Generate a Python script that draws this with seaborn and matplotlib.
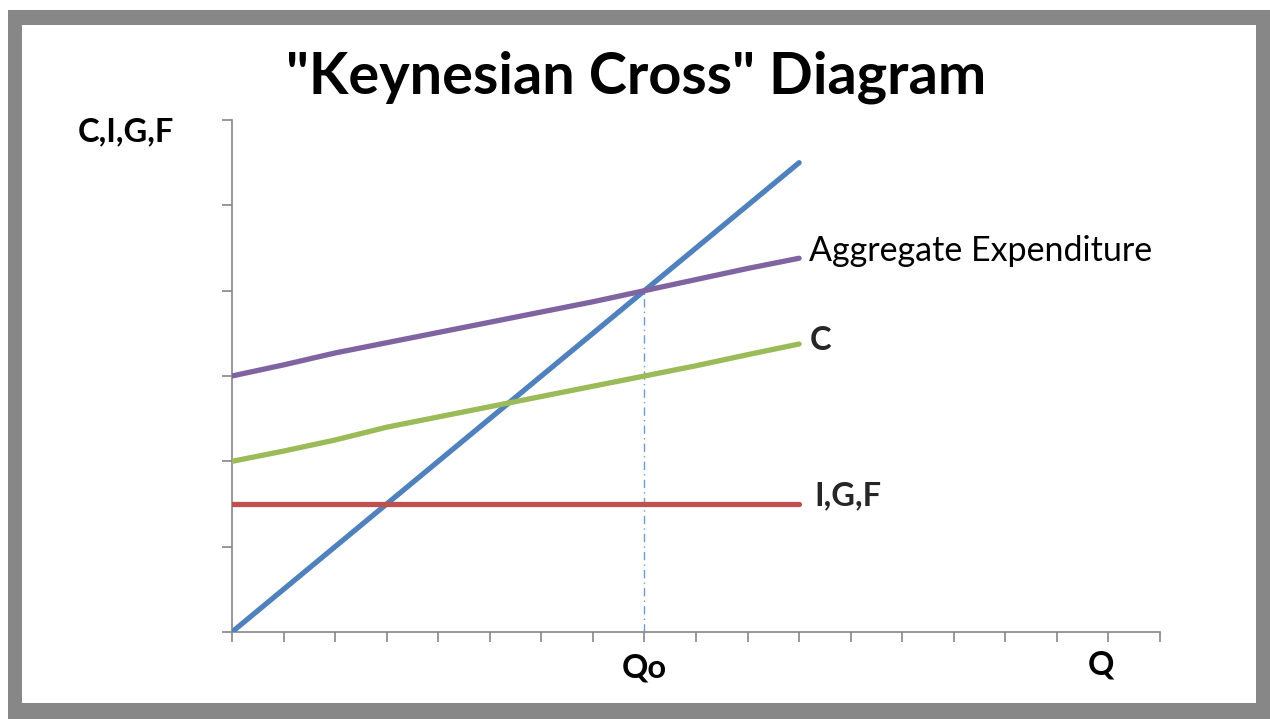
import numpy as np
import pandas as pd
import matplotlib
matplotlib.use("Agg")
import matplotlib.pyplot as plt
import matplotlib.transforms as mtransforms
import seaborn as sns
from matplotlib.patches import Rectangle

# ---- data ----
q_points = [0, 1, 2, 3, 4, 5, 6, 7, 8, 9, 10, 11]
income_line = [0.0, 0.5, 1.0, 1.5, 2.0, 2.5, 3.0, 3.5, 4.0, 4.5, 5.0, 5.5]
aggregate_expenditure = [3.0, 3.13, 3.27, 3.39, 3.51, 3.63, 3.75, 3.87, 4.0, 4.13, 4.26, 4.38]
consumption = [2.0, 2.12, 2.25, 2.4, 2.52, 2.64, 2.76, 2.88, 3.0, 3.12, 3.25, 3.375]
igf = [1.5, 1.5, 1.5, 1.5, 1.5, 1.5, 1.5, 1.5, 1.5, 1.5, 1.5, 1.5]
qo_x = [8, 8]
qo_y = [0.0, 4.0]
x_tick_positions = list(range(19))
x_tick_labels = ["" for _ in range(19)]
x_tick_labels[8] = "Qo"
x_tick_labels[17] = "Q"

series_names = ["Y", "Aggregate Expenditure", "C", "I,G,F"]
series_colors = {"Y": "#4F81BD", "Aggregate Expenditure": "#8064A2",
                 "C": "#9BBB59", "I,G,F": "#C0504D"}

df = pd.DataFrame({
    "Q": q_points * 4,
    "value": income_line + aggregate_expenditure + consumption + igf,
    "series": sum([[n] * len(q_points) for n in series_names], []),
})
df_qo = pd.DataFrame({"Q": qo_x, "value": qo_y})

sns.set_theme(style="white")
plt.rcParams["font.family"] = ["Lato", "DejaVu Sans"]

W, H = 1270, 719
fig = plt.figure(figsize=(W / 100, H / 100), dpi=100)
fig.patch.set_facecolor("white")

# frame
fig.add_artist(Rectangle((8 / W, 0), (W - 8) / W, (H - 10) / H,
                         transform=fig.transFigure, facecolor="#878787",
                         edgecolor="none", zorder=-20))
fig.add_artist(Rectangle((22 / W, (H - 703) / H), (1256 - 22) / W, (703 - 25) / H,
                         transform=fig.transFigure, facecolor="white",
                         edgecolor="none", zorder=-19))

ax = fig.add_axes([232 / W, (H - 632) / H, (1160 - 232) / W, (632 - 120) / H])
ax.set_facecolor("none")

sns.lineplot(data=df_qo, x="Q", y="value", ax=ax, estimator=None, sort=False,
             color="#6F9BD1", lw=1.0, linestyle=(0, (6, 3, 1, 3)), zorder=2)
sns.lineplot(data=df, x="Q", y="value", hue="series", hue_order=series_names,
             palette=series_colors, ax=ax, estimator=None, sort=False,
             lw=3.8, legend=False, zorder=3)
for line in ax.get_lines():
    line.set_solid_capstyle("round")

ax.set_xlim(0, 18)
ax.set_ylim(0, 6)
ax.set_xticks(x_tick_positions)
ax.set_xticklabels(x_tick_labels, fontsize=23.5, fontweight="bold", color="black")
ax.set_yticks(np.arange(0, 7))
ax.set_yticklabels([])
ax.set_xlabel("")
ax.set_ylabel("")
for s in ["top", "right"]:
    ax.spines[s].set_visible(False)
for s in ["left", "bottom"]:
    ax.spines[s].set_color("#868686")
    ax.spines[s].set_linewidth(1.2)
ax.tick_params(axis="both", which="major", direction="out", length=7.5,
               width=1.2, color="#868686", left=True, bottom=True)
ax.tick_params(axis="x", pad=8)
# the "Q" label sits a little left of and above its tick in the reference
q_lab = ax.get_xticklabels()[17]
q_lab.set_transform(q_lab.get_transform() +
                    mtransforms.ScaledTranslation(-8 / 100, 3 / 100, fig.dpi_scale_trans))

# series labels
ax.text(11.2, 4.47, "Aggregate Expenditure", fontsize=24.5, va="center",
        ha="left", color="black")
ax.text(11.2, 3.42, "C", fontsize=23.5, fontweight="bold", va="center", ha="left")
ax.text(11.3, 1.6, "I,G,F", fontsize=23.5, fontweight="bold", va="center", ha="left")

fig.text(636 / W, (H - 93) / H, '"Keynesian Cross" Diagram', fontsize=41.5,
         fontweight="bold", ha="center", va="baseline", color="black")
fig.text(78 / W, (H - 141) / H, "C,I,G,F", fontsize=23.5, fontweight="bold",
         ha="left", va="baseline", color="black")

fig.savefig("out.png", dpi=100)
